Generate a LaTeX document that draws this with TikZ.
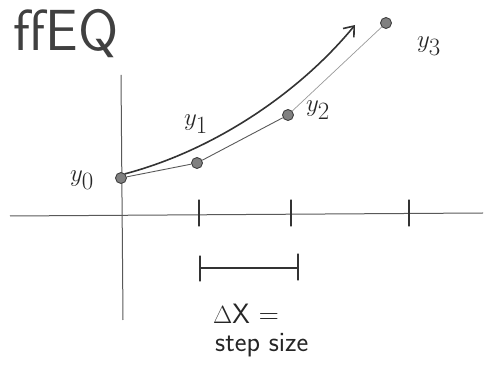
\documentclass[tikz,border=0pt]{standalone}
\usetikzlibrary{arrows.meta}
\begin{document}
\begin{tikzpicture}[x=1pt,y=-1pt,
  pen/.style={draw=black!80, line width=1.1pt, line cap=round},
  thinpen/.style={draw=black!65, line width=0.9pt},
  dot/.style={circle, fill=black!50, draw=black!75, line width=0.9pt, inner sep=0pt, minimum size=11pt},
  lab/.style={font=\fontsize{34}{34}\selectfont, text=black!85},
  txt/.style={font=\fontsize{28}{28}\selectfont\sffamily, text=black!85, inner sep=0pt, anchor=west}]
\useasboundingbox (0,0) rectangle (493,371);
% title
\node[font=\fontsize{58}{58}\selectfont\sffamily, text=black!75] (title) at (66,34) {ffEQ};
% axes
\coordinate (ya1) at (121,75); \coordinate (ya2) at (123,320);
\coordinate (xa1) at (10,216); \coordinate (xa2) at (483,213);
\draw[thinpen, line width=1pt] (ya1) -- (ya2);
\draw[thinpen, line width=1pt] (xa1) -- (xa2);
% ticks
\foreach \n/\x in {1/199,2/291,3/409}{
  \coordinate (t\n a) at (\x,200); \coordinate (t\n b) at (\x,226);
  \draw[pen] (t\n a) -- (t\n b);
}
% points
\node[dot] (p0) at (121,178) {};
\node[dot] (p1) at (197,163) {};
\node[dot] (p2) at (288,115) {};
\node[dot] (p3) at (386,23) {};
\draw[thinpen] (p0) -- (p1);
\draw[thinpen] (p1) -- (p2);
\draw[draw=black!40, line width=0.7pt] (p2) -- (p3);
% curve
\coordinate (ctip) at (355,25);
\draw[pen, line width=1.6pt, -{Straight Barb[length=9pt,width=14pt]}] (p0.north east) .. controls (215,150) and (300,92) .. (ctip);
% labels
\node[lab] (l0) at (82,180) {$y_0$};
\node[lab] (l1) at (196,124) {$y_1$};
\node[lab] (l2) at (318,110) {$y_2$};
\node[lab] (l3) at (429,46) {$y_3$};
% step bar
\coordinate (s1) at (200,268); \coordinate (s2) at (298,268);
\coordinate (s1a) at (200,256); \coordinate (s1b) at (200,281);
\coordinate (s2a) at (298,254); \coordinate (s2b) at (298,280);
\draw[pen] (s1) -- (s2);
\draw[pen] (s1a) -- (s1b);
\draw[pen] (s2a) -- (s2b);
\node[txt] (dx) at (213,314) {$\Delta$X =};
\node[txt] (ss) at (215,345) {step size};
\end{tikzpicture}
\end{document}
